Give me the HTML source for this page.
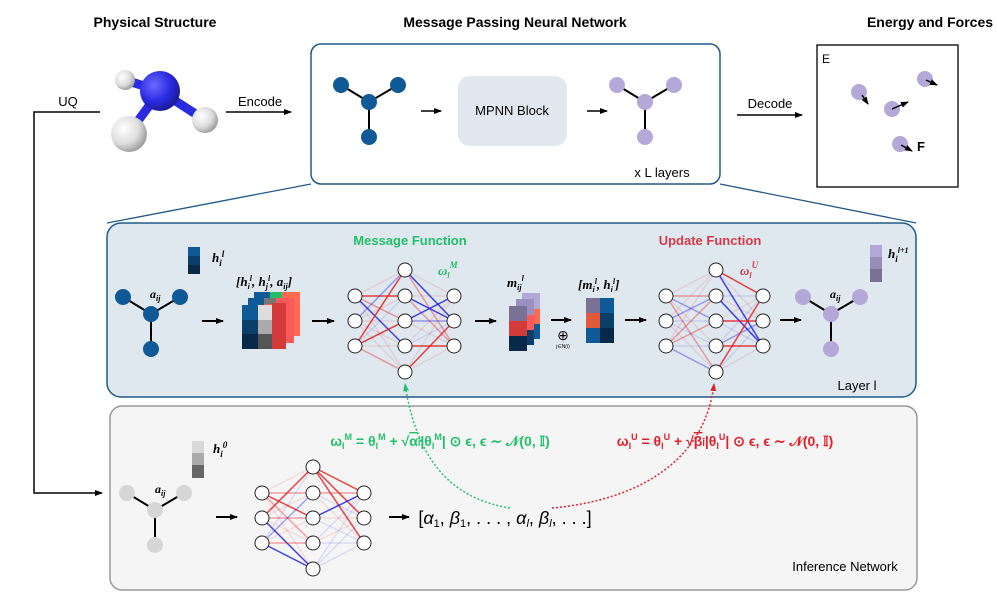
<!DOCTYPE html>
<html><head><meta charset="utf-8"><style>
body{margin:0;background:#fff;width:997px;height:612px;overflow:hidden}
svg{display:block}
text{font-family:"Liberation Sans",sans-serif}
.m{font-family:"Liberation Serif",serif;font-style:italic;font-weight:bold}
</style></head><body>
<svg id="s" width="997" height="612" viewBox="0 0 997 612" xmlns="http://www.w3.org/2000/svg">
<defs>
<marker id="ah" markerWidth="8" markerHeight="8" refX="7" refY="4" orient="auto" markerUnits="userSpaceOnUse"><path d="M0,1 L8,4 L0,7 z" fill="#000"/></marker>
<marker id="ag" markerWidth="8" markerHeight="8" refX="7" refY="4" orient="auto" markerUnits="userSpaceOnUse"><path d="M0,1 L8,4 L0,7 z" fill="#22c06a"/></marker>
<marker id="ar" markerWidth="8" markerHeight="8" refX="7" refY="4" orient="auto" markerUnits="userSpaceOnUse"><path d="M0,1 L8,4 L0,7 z" fill="#e0202a"/></marker>
<radialGradient id="gw" cx="0.35" cy="0.35" r="0.7"><stop offset="0" stop-color="#fff"/><stop offset="0.6" stop-color="#ddd"/><stop offset="1" stop-color="#999"/></radialGradient>
<radialGradient id="gb" cx="0.35" cy="0.35" r="0.7"><stop offset="0" stop-color="#6a6aff"/><stop offset="0.6" stop-color="#2a2ae0"/><stop offset="1" stop-color="#1a1a90"/></radialGradient>
</defs>
<text x="155" y="27" font-size="14" font-weight="bold" text-anchor="middle">Physical Structure</text>
<text x="515" y="27" font-size="14" font-weight="bold" text-anchor="middle">Message Passing Neural Network</text>
<text x="930" y="27" font-size="14" font-weight="bold" text-anchor="middle">Energy and Forces</text>
<path d="M100,112 H34 V493 H102" fill="none" stroke="#000" stroke-width="1.5" marker-end="url(#ah)"/>
<text x="68" y="106" font-size="13" text-anchor="middle">UQ</text>
<line x1="160" y1="91" x2="125" y2="80" stroke="#2a2ae0" stroke-width="9"/>
<line x1="160" y1="91" x2="129" y2="133" stroke="#2a2ae0" stroke-width="9"/>
<line x1="160" y1="91" x2="205" y2="120" stroke="#2a2ae0" stroke-width="9"/>
<circle cx="125" cy="80" r="10" fill="url(#gw)"/>
<circle cx="160" cy="91" r="20" fill="url(#gb)"/>
<circle cx="205" cy="120" r="13" fill="url(#gw)"/>
<circle cx="129" cy="134" r="18" fill="url(#gw)"/>
<line x1="226" y1="112" x2="291" y2="112" stroke="#000" stroke-width="1.5" marker-end="url(#ah)"/>
<text x="260" y="106" font-size="13" text-anchor="middle">Encode</text>
<rect x="311" y="44" width="409" height="140" rx="10" fill="#fff" stroke="#1f5a88" stroke-width="1.5"/>
<line x1="311" y1="184" x2="107" y2="223" stroke="#1f5a88" stroke-width="1.3"/>
<line x1="720" y1="184" x2="916" y2="223" stroke="#1f5a88" stroke-width="1.3"/>
<line x1="421" y1="111" x2="441" y2="111" stroke="#000" stroke-width="1.5" marker-end="url(#ah)"/>
<rect x="458" y="76" width="109" height="70" rx="12" fill="#e1e8f0"/>
<text x="512" y="115" font-size="13" text-anchor="middle">MPNN Block</text>
<line x1="587" y1="111" x2="607" y2="111" stroke="#000" stroke-width="1.5" marker-end="url(#ah)"/>
<text x="662" y="177" font-size="13" text-anchor="middle">x L layers</text>
<line x1="737" y1="115" x2="802" y2="115" stroke="#000" stroke-width="1.5" marker-end="url(#ah)"/>
<text x="770" y="108" font-size="13" text-anchor="middle">Decode</text>
<rect x="817" y="45" width="141" height="142" fill="#fff" stroke="#222" stroke-width="1.5"/>
<text x="822" y="63" font-size="12">E</text>
<g fill="#b3a8d8"><circle cx="859" cy="92" r="8"/><circle cx="925" cy="79" r="8"/><circle cx="892" cy="109" r="8"/><circle cx="900" cy="144" r="8"/></g>
<g stroke="#000" stroke-width="1.5" marker-end="url(#ah)">
<line x1="862" y1="95" x2="868" y2="104"/><line x1="926" y1="80" x2="937" y2="85"/>
<line x1="892" y1="109" x2="908" y2="102"/><line x1="901" y1="145" x2="912" y2="151"/></g>
<text x="917" y="151" font-size="13" font-weight="bold">F</text>
<rect x="107" y="223" width="809" height="174" rx="14" fill="#dfe7ef" stroke="#1f5a88" stroke-width="1.5"/>
<text x="410" y="245" font-size="13" font-weight="bold" fill="#22c06a" text-anchor="middle">Message Function</text>
<text x="710" y="245" font-size="13" font-weight="bold" fill="#d63a46" text-anchor="middle">Update Function</text>
<text x="857" y="390" font-size="13" text-anchor="middle">Layer l</text>
<rect x="110" y="406" width="807" height="184" rx="12" fill="#f5f5f5" stroke="#999" stroke-width="1.5"/>
<text x="845" y="571" font-size="13" text-anchor="middle">Inference Network</text>
<rect x="188" y="247" width="12" height="9" fill="#0f5a96"/><rect x="188" y="256" width="12" height="9" fill="#0b3f6a"/><rect x="188" y="265" width="12" height="9" fill="#082a48"/>
<text x="212" y="262" class="m" font-size="13">h<tspan font-size="9" dy="4">i</tspan><tspan font-size="9" dy="-9">l</tspan></text>
<rect x="870" y="245" width="12" height="12" fill="#b3a8d8"/><rect x="870" y="257" width="12" height="12" fill="#968cb8"/><rect x="870" y="269" width="12" height="13" fill="#7a7296"/>
<text x="888" y="258" class="m" font-size="13">h<tspan font-size="9" dy="4">i</tspan><tspan font-size="8" dy="-9">l+1</tspan></text>
<rect x="192" y="441" width="12" height="12" fill="#d8d8d8"/><rect x="192" y="453" width="12" height="12" fill="#aaa"/><rect x="192" y="465" width="12" height="13" fill="#666"/>
<text x="213" y="453" class="m" font-size="13">h<tspan font-size="9" dy="4">i</tspan><tspan font-size="9" dy="-9">0</tspan></text>
<text x="150" y="298" class="m" font-size="12">a<tspan font-size="8" dy="3">ij</tspan></text>
<text x="830" y="298" class="m" font-size="12">a<tspan font-size="8" dy="3">ij</tspan></text>
<text x="155" y="493" class="m" font-size="12">a<tspan font-size="8" dy="3">ij</tspan></text>
<g>
<rect x="254" y="292" width="46" height="44" fill="#ff6a50"/><rect x="254" y="292" width="16" height="6" fill="#0f5a96"/><rect x="270" y="292" width="12" height="6" fill="#22c06a"/>
<rect x="248" y="298" width="46" height="45" fill="#ff5a5a"/><rect x="248" y="298" width="16" height="45" fill="#0f5a96"/><rect x="264" y="298" width="12" height="6" fill="#777"/>
<rect x="242" y="305" width="16" height="15" fill="#0f5a96"/><rect x="242" y="320" width="16" height="14" fill="#0b3f6a"/><rect x="242" y="334" width="16" height="15" fill="#082a48"/>
<rect x="258" y="305" width="14" height="15" fill="#ddd"/><rect x="258" y="320" width="14" height="14" fill="#aaa"/><rect x="258" y="334" width="14" height="15" fill="#555"/>
<rect x="272" y="303" width="14" height="46" fill="#d33a3a"/>
</g>
<text x="236" y="286" font-size="13" class="m">[h<tspan font-size="8" dy="3">i</tspan><tspan font-size="8" dy="-8">l</tspan><tspan dy="5">, h</tspan><tspan font-size="8" dy="3">j</tspan><tspan font-size="8" dy="-8">l</tspan><tspan dy="5">, a</tspan><tspan font-size="8" dy="3">ij</tspan><tspan dy="-3">]</tspan></text>
<rect x="522" y="293" width="18" height="46" fill="#b3a8d8"/><rect x="522" y="309" width="18" height="15" fill="#ff6a50"/><rect x="522" y="324" width="18" height="15" fill="#0f5a96"/>
<rect x="516" y="299" width="18" height="46" fill="#9a90c0"/><rect x="516" y="315" width="18" height="15" fill="#ff5a5a"/><rect x="516" y="330" width="18" height="15" fill="#0b3f6a"/>
<rect x="509" y="306" width="18" height="15" fill="#7a7296"/><rect x="509" y="321" width="18" height="15" fill="#d33a3a"/><rect x="509" y="336" width="18" height="15" fill="#082a48"/>
<text x="507" y="287" font-size="13" class="m">m<tspan font-size="8" dy="3">ij</tspan><tspan font-size="8" dy="-9">l</tspan></text>
<text x="563" y="340" font-size="14" text-anchor="middle">⊕</text>
<text x="563" y="348" font-size="5" text-anchor="middle">j∈N(i)</text>
<rect x="586" y="298" width="14" height="15" fill="#7a7296"/><rect x="586" y="313" width="14" height="15" fill="#e05a3a"/><rect x="586" y="328" width="14" height="15" fill="#0f5a96"/>
<rect x="600" y="298" width="14" height="15" fill="#0f5a96"/><rect x="600" y="313" width="14" height="15" fill="#0b3f6a"/><rect x="600" y="328" width="14" height="15" fill="#082a48"/>
<text x="578" y="289" font-size="13" class="m">[m<tspan font-size="8" dy="3">i</tspan><tspan font-size="8" dy="-8">l</tspan><tspan dy="5">, h</tspan><tspan font-size="8" dy="3">i</tspan><tspan font-size="8" dy="-8">l</tspan><tspan dy="5">]</tspan></text>
<text x="438" y="275" font-size="13" class="m" fill="#22c06a">ω<tspan font-size="8" dy="3">l</tspan><tspan font-size="9" dy="-10">M</tspan></text>
<text x="740" y="275" font-size="13" class="m" fill="#d63a46">ω<tspan font-size="8" dy="3">l</tspan><tspan font-size="9" dy="-10">U</tspan></text>
<g stroke="#000" stroke-width="2" marker-end="url(#ah)">
<line x1="202" y1="321" x2="223" y2="321"/><line x1="312" y1="321" x2="334" y2="321"/>
<line x1="475" y1="321" x2="496" y2="321"/><line x1="551" y1="320" x2="571" y2="320"/>
<line x1="625" y1="320" x2="646" y2="320"/><line x1="780" y1="320" x2="801" y2="320"/>
<line x1="216" y1="517" x2="237" y2="517"/><line x1="389" y1="517" x2="409" y2="517"/>
</g>
<text x="505" y="524" font-size="18" text-anchor="middle" font-family="Liberation Serif,serif">[<tspan font-style="italic">α</tspan><tspan font-size="11" dy="3">1</tspan><tspan dy="-3">, </tspan><tspan font-style="italic">β</tspan><tspan font-size="11" dy="3">1</tspan><tspan dy="-3">, . . . , </tspan><tspan font-style="italic">α</tspan><tspan font-size="11" dy="3" font-style="italic">l</tspan><tspan dy="-3">, </tspan><tspan font-style="italic">β</tspan><tspan font-size="11" dy="3" font-style="italic">l</tspan><tspan dy="-3">, . . .]</tspan></text>
<text x="440" y="446" font-size="14" text-anchor="middle" fill="#22c06a" font-family="Liberation Serif,serif" font-weight="bold">ω<tspan font-size="9" dy="3">l</tspan><tspan font-size="9" dy="-9">M</tspan><tspan dy="6"> = θ</tspan><tspan font-size="9" dy="3">l</tspan><tspan font-size="9" dy="-9">M</tspan><tspan dy="6"> + √</tspan><tspan text-decoration="overline">α<tspan font-size="9">l</tspan></tspan>|θ<tspan font-size="9" dy="3">l</tspan><tspan font-size="9" dy="-9">M</tspan><tspan dy="6">| ⊙ ϵ, ϵ ∼ 𝒩(0, 𝕀)</tspan></text>
<text x="725" y="446" font-size="14" text-anchor="middle" fill="#e0202a" font-family="Liberation Serif,serif" font-weight="bold">ω<tspan font-size="9" dy="3">l</tspan><tspan font-size="9" dy="-9">U</tspan><tspan dy="6"> = θ</tspan><tspan font-size="9" dy="3">l</tspan><tspan font-size="9" dy="-9">U</tspan><tspan dy="6"> + √</tspan><tspan text-decoration="overline">β<tspan font-size="9">l</tspan></tspan>|θ<tspan font-size="9" dy="3">l</tspan><tspan font-size="9" dy="-9">U</tspan><tspan dy="6">| ⊙ ϵ, ϵ ∼ 𝒩(0, 𝕀)</tspan></text>
<path d="M510,508 C460,500 418,470 405,384" fill="none" stroke="#22c06a" stroke-width="1.5" stroke-dasharray="2,2" marker-end="url(#ag)"/>
<path d="M552,508 C640,500 705,460 714,384" fill="none" stroke="#e0202a" stroke-width="1.5" stroke-dasharray="2,2" marker-end="url(#ar)"/>
<g id="dyn"></g>
</svg>
<script>
var NS="http://www.w3.org/2000/svg",D=document.getElementById("dyn");
function el(t,a){var e=document.createElementNS(NS,t);for(var k in a)e.setAttribute(k,a[k]);D.appendChild(e);return e;}
function graph(cx,cy,c){[[cx-28,cy-17],[cx+29,cy-17],[cx,cy+35]].forEach(function(p){el("line",{x1:cx,y1:cy,x2:p[0],y2:p[1],stroke:"#000","stroke-width":2});});
[[cx,cy],[cx-28,cy-17],[cx+29,cy-17],[cx,cy+35]].forEach(function(p){el("circle",{cx:p[0],cy:p[1],r:8,fill:c});});}
graph(369,102,"#0f5a96");graph(645,102,"#b3a8d8");
graph(151,314,"#0f5a96");graph(831,314,"#b3a8d8");graph(155,510,"#d6d6d6");
var seed=7;function rnd(){seed=(seed*9301+49297)%233280;return seed/233280;}
function nn(x1,x2,x3,yc){var L=[yc-25,yc,yc+25],M=[yc-51,yc-25,yc,yc+25,yc+51];
function ln(a,b){var r=rnd(),red=rnd()<0.65,o=r<0.2?0.85:(r<0.45?0.4:0.12);
el("line",{x1:a[0],y1:a[1],x2:b[0],y2:b[1],stroke:red?"#e82020":"#2020e8","stroke-opacity":o,"stroke-width":1.5});}
L.forEach(function(a){M.forEach(function(b){ln([x1,a],[x2,b]);});});
M.forEach(function(a){L.forEach(function(b){ln([x2,a],[x3,b]);});});
L.forEach(function(y){el("circle",{cx:x1,cy:y,r:7,fill:"#fff",stroke:"#222","stroke-width":1});el("circle",{cx:x3,cy:y,r:7,fill:"#fff",stroke:"#222","stroke-width":1});});
M.forEach(function(y){el("circle",{cx:x2,cy:y,r:7,fill:"#fff",stroke:"#222","stroke-width":1});});}
nn(355,405,454,321);nn(666,716,763,321);nn(262,313,364,518);
</script>
</body></html>
